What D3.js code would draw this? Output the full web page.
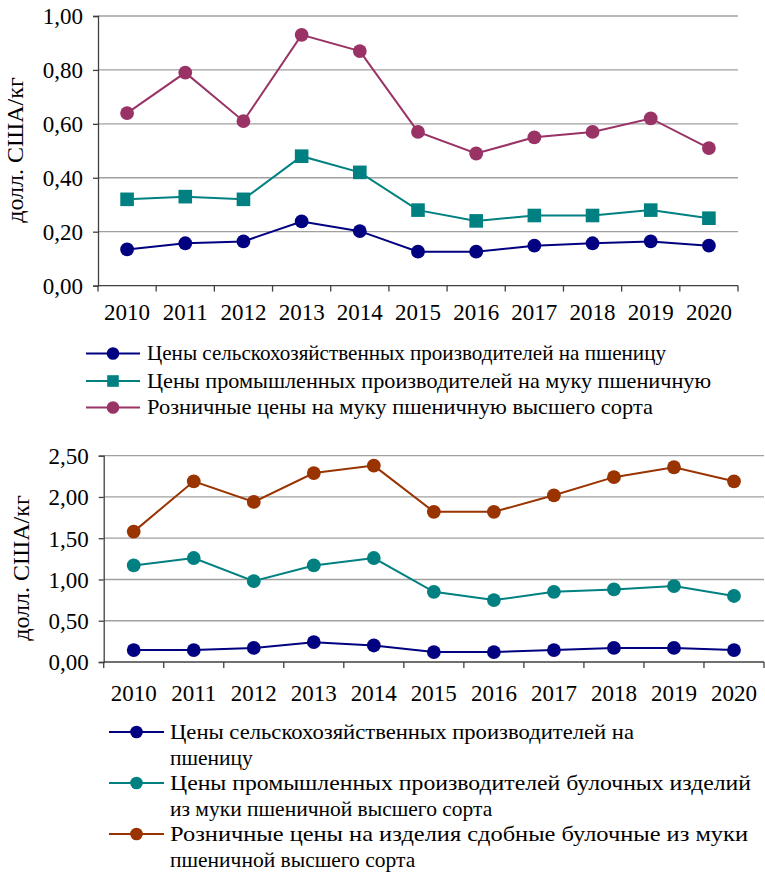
<!DOCTYPE html>
<html>
<head>
<meta charset="utf-8">
<script src="https://cdn.jsdelivr.net/npm/d3@7"></script>
<style>
  html, body { margin: 0; padding: 0; background: #fff; }
  svg { display: block; }
  text { font-family: "Liberation Serif", "Times New Roman", serif; fill: #000; }
</style>
</head>
<body>
<svg id="chart" width="765" height="872"></svg>
<script>
// Years shown on both charts
const years = ["2010","2011","2012","2013","2014","2015","2016","2017","2018","2019","2020"];

// Upper chart: wheat and wheat flour, USD per kg
const topWheat       = [0.134, 0.157, 0.164, 0.238, 0.202, 0.126, 0.126, 0.148, 0.157, 0.164, 0.148];
const topFlour       = [0.32, 0.33, 0.32, 0.48, 0.42, 0.28, 0.24, 0.26, 0.26, 0.28, 0.25];
const topRetailFlour = [0.64, 0.79, 0.61, 0.93, 0.87, 0.57, 0.49, 0.55, 0.57, 0.62, 0.51];
const topTicks = [0, 0.2, 0.4, 0.6, 0.8, 1.0];

// Lower chart: wheat and bakery products, USD per kg
const botWheat       = [0.145, 0.145, 0.17, 0.24, 0.20, 0.12, 0.12, 0.145, 0.17, 0.17, 0.145];
const botBakery      = [1.17, 1.26, 0.98, 1.17, 1.26, 0.85, 0.75, 0.85, 0.88, 0.92, 0.80];
const botRetailBuns  = [1.58, 2.19, 1.94, 2.29, 2.38, 1.82, 1.82, 2.02, 2.24, 2.36, 2.19];
const botTicks = [0, 0.5, 1.0, 1.5, 2.0, 2.5];

const yTitle = "долл. США/кг";

const topLegend = [
  ["Цены сельскохозяйственных производителей на пшеницу"],
  ["Цены промышленных производителей на муку пшеничную"],
  ["Розничные цены на муку пшеничную высшего сорта"]
];
const botLegend = [
  ["Цены сельскохозяйственных производителей на", "пшеницу"],
  ["Цены промышленных производителей булочных изделий", "из муки пшеничной высшего сорта"],
  ["Розничные цены на изделия сдобные булочные из муки", "пшеничной высшего сорта"]
];

const C_NAVY = "#000080", C_TEAL = "#008080", C_PLUM = "#993366", C_RUST = "#993300";

const svg = d3.select("#chart");
const fmt = v => d3.format(".2f")(v).replace(".", ",");

function drawChart(cfg) {
  const g = svg.append("g");
  const x = d3.scaleBand().domain(years).range([cfg.left, cfg.right]).padding(0);
  const y = d3.scaleLinear().domain(cfg.domain).range([cfg.bottom, cfg.top]);

  // horizontal gridlines
  g.append("g").selectAll("line").data(cfg.ticks.filter(t => t > 0)).join("line")
    .attr("x1", cfg.left).attr("x2", cfg.right)
    .attr("y1", d => y(d)).attr("y2", d => y(d))
    .attr("stroke", "#a0a0a0").attr("stroke-width", 1.3);

  // y axis
  const ya = d3.axisLeft(y).tickValues(cfg.ticks).tickFormat(fmt).tickSize(5).tickPadding(10);
  const yg = g.append("g").attr("transform", `translate(${cfg.left},0)`).call(ya);
  yg.attr("font-family", null).attr("font-size", null);
  yg.select(".domain").attr("stroke", "#404040").attr("stroke-width", 1.3);
  yg.selectAll(".tick line").attr("stroke", "#404040").attr("stroke-width", 1.3);
  yg.selectAll(".tick text").attr("font-size", cfg.fs).attr("fill", "#000").attr("dy", "0.34em");

  // x axis: ticks at category boundaries, labels centred in bands
  const edges = years.map(d => x(d)).concat([x(years[years.length - 1]) + x.bandwidth()]);
  g.append("line").attr("x1", cfg.left).attr("x2", cfg.right)
    .attr("y1", cfg.bottom).attr("y2", cfg.bottom)
    .attr("stroke", "#404040").attr("stroke-width", 1.3);
  g.append("g").selectAll("line").data(edges).join("line")
    .attr("x1", d => d).attr("x2", d => d)
    .attr("y1", cfg.bottom).attr("y2", cfg.bottom + 6)
    .attr("stroke", "#404040").attr("stroke-width", 1.3);
  g.append("g").selectAll("text").data(years).join("text")
    .attr("x", d => x(d) + x.bandwidth() / 2)
    .attr("y", cfg.bottom + cfg.xLabelDy)
    .attr("text-anchor", "middle").attr("font-size", cfg.fs)
    .text(d => d);

  // y title
  g.append("text")
    .attr("transform", `translate(${cfg.titleX},${cfg.titleY}) rotate(-90)`)
    .attr("text-anchor", "middle").attr("font-size", cfg.titleFs)
    .text(yTitle);

  // series
  const line = d3.line().x((d, i) => x(years[i]) + x.bandwidth() / 2).y(d => y(d));
  cfg.series.forEach(s => {
    g.append("path").datum(s.values).attr("d", line)
      .attr("fill", "none").attr("stroke", s.color).attr("stroke-width", 2);
    const pts = g.append("g").selectAll(".m").data(s.values).join(s.shape === "square" ? "rect" : "circle");
    if (s.shape === "square") {
      pts.attr("x", (d, i) => x(years[i]) + x.bandwidth() / 2 - 6.8)
         .attr("y", d => y(d) - 6.8).attr("width", 13.6).attr("height", 13.6)
         .attr("fill", s.color);
    } else {
      pts.attr("cx", (d, i) => x(years[i]) + x.bandwidth() / 2)
         .attr("cy", d => y(d)).attr("r", 6.9).attr("fill", s.color);
    }
  });

  // legend
  const lg = g.append("g");
  cfg.legend.forEach((lines, i) => {
    const s = cfg.series[i];
    const base = cfg.legY[i];
    const cy = base - 6.5;
    lg.append("line").attr("x1", cfg.legX0).attr("x2", cfg.legX1)
      .attr("y1", cy).attr("y2", cy).attr("stroke", s.color).attr("stroke-width", 2);
    const mx = (cfg.legX0 + cfg.legX1) / 2;
    if (s.shape === "square") {
      lg.append("rect").attr("x", mx - 5.8).attr("y", cy - 5.8).attr("width", 11.6).attr("height", 11.6).attr("fill", s.color);
    } else {
      lg.append("circle").attr("cx", mx).attr("cy", cy).attr("r", 6.3).attr("fill", s.color);
    }
    lines.forEach((t, j) => {
      const tx = lg.append("text").attr("x", cfg.legTextX).attr("y", base + j * cfg.legLineH)
        .attr("font-size", cfg.legFs).text(t);
      const w = cfg.legW[i][j];
      if (w) tx.attr("textLength", w).attr("lengthAdjust", "spacingAndGlyphs");
    });
  });
}

drawChart({
  left: 98, right: 738, top: 16, bottom: 285.6, domain: [0, 1], ticks: topTicks,
  fs: 23, xLabelDy: 34, titleX: 23, titleY: 150, titleFs: 24,
  series: [
    { values: topWheat, color: C_NAVY, shape: "circle" },
    { values: topFlour, color: C_TEAL, shape: "square" },
    { values: topRetailFlour, color: C_PLUM, shape: "circle" }
  ],
  legend: topLegend, legY: [360, 387.5, 414], legX0: 86, legX1: 140, legTextX: 147,
  legFs: 21.5, legLineH: 27, legW: [[519], [564], [506]]
});

drawChart({
  left: 103.7, right: 764, top: 455.7, bottom: 662, domain: [0, 2.5], ticks: botTicks,
  fs: 23, xLabelDy: 38.5, titleX: 29, titleY: 568, titleFs: 24,
  series: [
    { values: botWheat, color: C_NAVY, shape: "circle" },
    { values: botBakery, color: C_TEAL, shape: "circle" },
    { values: botRetailBuns, color: C_RUST, shape: "circle" }
  ],
  legend: botLegend, legY: [738.5, 789.5, 840.5], legX0: 109, legX1: 164, legTextX: 170,
  legFs: 21.5, legLineH: 26.5, legW: [[464, null], [581, null], [578, null]]
});
</script>
</body>
</html>
